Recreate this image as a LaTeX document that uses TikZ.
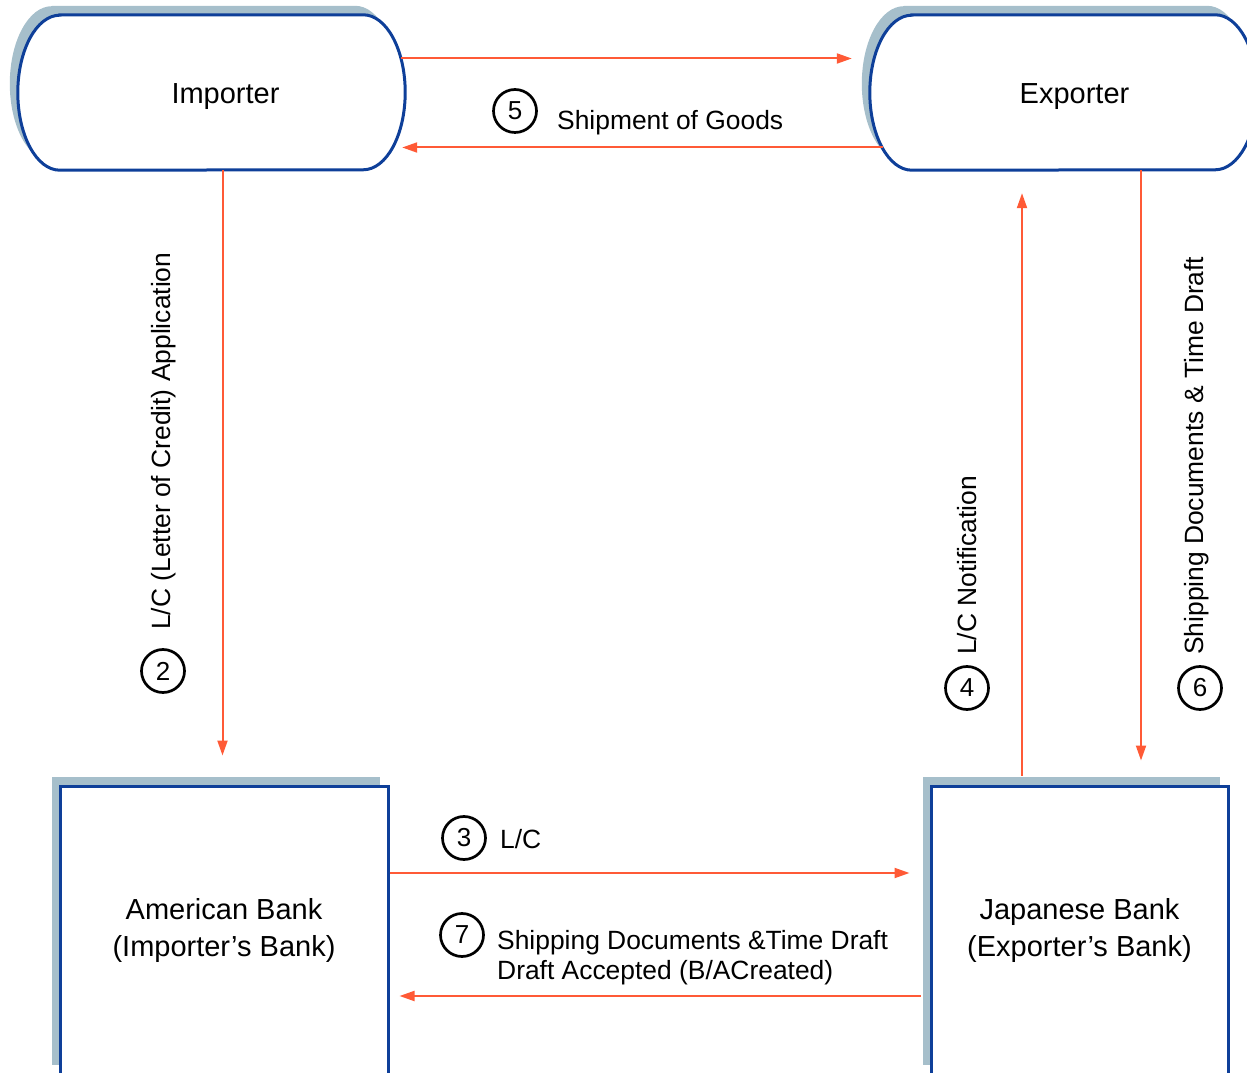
\documentclass[tikz,border=0pt]{standalone}
\usepackage{fontspec}
\setmainfont{Liberation Sans}
\usetikzlibrary{arrows.meta,shadows}

\definecolor{boxblue}{RGB}{14,63,153}
\definecolor{shadowblue}{RGB}{166,191,203}
\definecolor{flow}{RGB}{255,90,54}

\begin{document}
\begin{tikzpicture}[x=1pt,y=1pt,
    party/.style={minimum width=387,minimum height=155,inner sep=0},
    capsule/.style={draw=boxblue,line width=3pt,fill=white},
    bank/.style={draw=boxblue,line width=3pt,fill=white,minimum height=288,
        inner sep=0,align=center,font=\fontsize{29}{37}\selectfont,
        drop shadow={shadow xshift=-8pt,shadow yshift=9pt,fill=shadowblue,opacity=1}},
    flowline/.style={draw=flow,line width=2pt,-{Triangle[length=15pt,width=10pt]}},
    num/.style={circle,draw,line width=2.7pt,minimum size=43,inner sep=0,
        font=\fontsize{26}{26}\selectfont},
    lbl/.style={inner sep=0,font=\fontsize{26.4}{30}\selectfont}]

\useasboundingbox (0,0) rectangle (1247,1072);
\clip (0,0) rectangle (1247,1072);

% parties
\node[party] (imp) at (211.5,979.5) {};
\node[party] (exp) at (1063.5,979.5) {};

\foreach \n in {imp,exp} {
  \fill[shadowblue] ([xshift=34,yshift=9]\n.north west) -- ([xshift=-50,yshift=9]\n.north east)
    arc[start angle=90,end angle=-90,x radius=42,y radius=77.5]
    -- ([xshift=34,yshift=9]\n.south west)
    arc[start angle=270,end angle=90,x radius=42,y radius=77.5] -- cycle;
  \draw[capsule] ([xshift=42]\n.north west) -- ([xshift=-42]\n.north east)
    arc[start angle=90,end angle=-90,x radius=42,y radius=77.5]
    -- ([xshift=42]\n.south west)
    arc[start angle=270,end angle=90,x radius=42,y radius=77.5] -- cycle;
}

\node[font=\fontsize{29}{37}\selectfont] (imptext) at ([xshift=14,yshift=-4]imp.center) {Importer};
\node[font=\fontsize{29}{37}\selectfont] (exptext) at ([xshift=11,yshift=-4]exp.center) {Exporter};

% banks
\node[bank,minimum width=328] (amb) at (224,142) {American Bank\\(Importer’s Bank)};
\node[bank,minimum width=297] (jpb) at (1079.5,142) {Japanese Bank\\(Exporter’s Bank)};

% flows
\draw[flowline] ([xshift=-4,yshift=34]imp.east) -- ([xshift=-18,yshift=34]exp.west);
\draw[flowline] ([xshift=13,yshift=-55]exp.west) -- ([xshift=-3,yshift=-55]imp.east);
\draw[flowline] ([xshift=11]imp.south) -- ([xshift=-1.5,yshift=29]amb.north);
\draw[flowline] ([xshift=-57.5,yshift=9]jpb.north) -- ([xshift=-41.5,yshift=-23]exp.south);
\draw[flowline] ([xshift=77.5]exp.south) -- ([xshift=61.5,yshift=24]jpb.north);
\draw[flowline] ([yshift=57]amb.east) -- ([xshift=-20,yshift=57]jpb.west);
\draw[flowline] ([xshift=-9,yshift=-66]jpb.west) -- ([xshift=10,yshift=-66]amb.east);

% steps
\node[num] (n2) at (163,401) {2};
\node[lbl,rotate=90,anchor=west] (l2) at (164,442) {L/C (Letter of Credit) Application};
\node[num] (n3) at (464,234) {3};
\node[lbl,anchor=base west] (l3) at (500,224) {L/C};
\node[num] (n4) at (967,384) {4};
\node[lbl,rotate=90,anchor=west] (l4) at (967,417) {L/C Notification};
\node[num] (n5) at (515,961) {5};
\node[lbl,anchor=base west] (l5) at (557,942) {Shipment of Goods};
\node[num] (n6) at (1200,384) {6};
\node[lbl,rotate=90,anchor=west] (l6) at (1197,417) {Shipping Documents \& Time Draft};
\node[num] (n7) at (462,137) {7};
\node[lbl,anchor=north west,align=left] (l7) at (497,142)
    {Shipping Documents \&Time Draft\\Draft Accepted (B/ACreated)};

\end{tikzpicture}
\end{document}
